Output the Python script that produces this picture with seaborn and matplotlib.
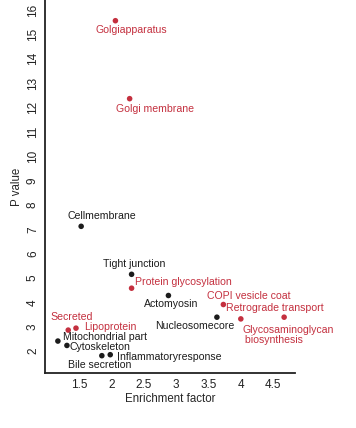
import matplotlib
matplotlib.use("Agg")
import matplotlib.pyplot as plt
from matplotlib import font_manager
import seaborn as sns
import pandas as pd

terms = ["Golgiapparatus", "Golgi membrane", "Cellmembrane", "Tight junction",
         "Protein glycosylation", "Actomyosin", "Nucleosomecore", "COPI vesicle coat",
         "Glycosaminoglycan\n biosynthesis", "Retrograde transport", "Secreted",
         "Lipoprotein", "Mitochondrial part", "Cytoskeleton", "Bile secretion",
         "Inflammatoryresponse"]
enrichment = [2.06, 2.28, 1.53, 2.31, 2.31, 2.88, 3.63, 3.73, 4.00, 4.67, 1.33,
              1.45, 1.17, 1.31, 1.85, 1.98]
pvalue = [15.56, 12.36, 7.12, 5.15, 4.58, 4.28, 3.39, 3.91, 3.32, 3.39, 2.86,
          2.94, 2.41, 2.23, 1.81, 1.85]
group = ["red", "red", "black", "black", "red", "black", "black", "red", "red",
         "red", "red", "red", "black", "black", "black", "black"]
xticks = [1.5, 2, 2.5, 3, 3.5, 4, 4.5]
yticks = list(range(2, 17))

# label placement (data coords): (x, y, ha)
label_pos = {
    "Golgiapparatus": (2.30, 15.18, "center"),
    "Golgi membrane": (2.67, 11.94, "center"),
    "Cellmembrane": (1.85, 7.53, "center"),
    "Tight junction": (2.35, 5.59, "center"),
    "Protein glycosylation": (2.37, 4.82, "left"),
    "Actomyosin": (2.92, 3.94, "center"),
    "Nucleosomecore": (3.28, 3.01, "center"),
    "COPI vesicle coat": (4.12, 4.25, "center"),
    "Glycosaminoglycan\n biosynthesis": (4.02, 2.64, "left"),
    "Retrograde transport": (4.52, 3.75, "center"),
    "Secreted": (1.39, 3.38, "center"),
    "Lipoprotein": (1.975, 2.97, "center"),
    "Mitochondrial part": (1.905, 2.57, "center"),
    "Cytoskeleton": (1.82, 2.15, "center"),
    "Bile secretion": (1.82, 1.42, "center"),
    "Inflammatoryresponse": (2.90, 1.75, "center"),
}

RED = "#C4303F"
BLACK = "#1c1c1c"

df = pd.DataFrame({"term": terms, "x": enrichment, "y": pvalue, "g": group})

sns.set_style("white")
names = {f.name for f in font_manager.fontManager.ttflist}
if "Liberation Sans Narrow" in names:
    FAM = ["Liberation Sans Narrow", "DejaVu Sans"]
    SCALE = 1.2
else:
    FAM = ["Liberation Sans", "DejaVu Sans"]
    SCALE = 1.0
plt.rcParams["font.family"] = FAM

fig = plt.figure(figsize=(3.56, 4.28), dpi=100)
ax = fig.add_axes([0.127, 0.128, 0.702, 0.872])

sns.scatterplot(data=df, x="x", y="y", hue="g",
                palette={"red": RED, "black": BLACK}, s=16, linewidth=0,
                legend=False, ax=ax)

for t, g in zip(terms, group):
    lx, ly, ha = label_pos[t]
    ax.text(lx, ly, t, ha=ha, va="center", fontsize=7.6 * SCALE,
            color=RED if g == "red" else BLACK, linespacing=1.0)

ax.set_xlim(0.974, 4.84)
ax.set_ylim(1.09, 16.41)
ax.set_xticks(xticks)
ax.set_xticklabels([f"{v:g}" for v in xticks], fontsize=8.5 * SCALE)
ax.set_yticks(yticks)
ax.set_yticklabels([str(v) for v in yticks], fontsize=8.5 * SCALE, rotation=90,
                   va="center")
ax.tick_params(axis="both", direction="out", length=2.5, width=0.8, colors="#222222",
               pad=2)
ax.set_xlabel("Enrichment factor", fontsize=8.3 * SCALE, labelpad=1)
ax.set_ylabel("P value", fontsize=8.3 * SCALE, labelpad=3)
for side in ["top", "right"]:
    ax.spines[side].set_visible(False)
for side in ["left", "bottom"]:
    ax.spines[side].set_color("#222222")
    ax.spines[side].set_linewidth(1.3)

fig.savefig("out.png", dpi=100)
